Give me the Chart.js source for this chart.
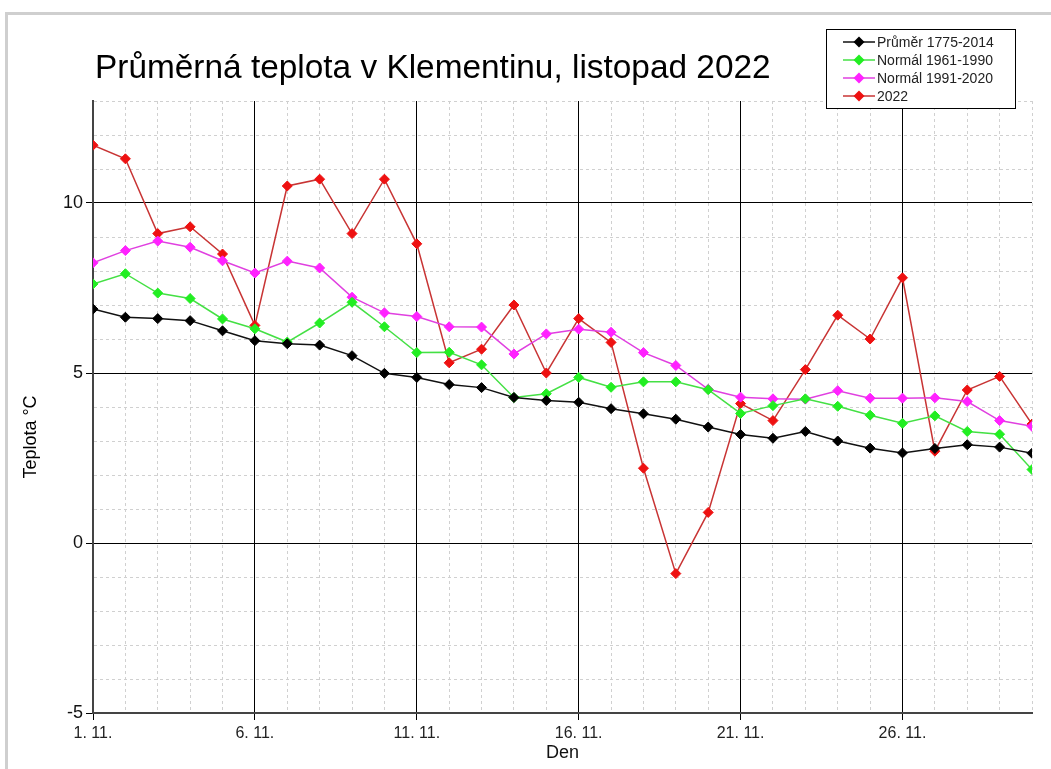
<!DOCTYPE html>
<html lang="cs">
<head>
<meta charset="utf-8">
<title>Průměrná teplota v Klementinu, listopad 2022</title>
<script src="https://cdn.jsdelivr.net/npm/chart.js@4.4.1/dist/chart.umd.min.js"></script>
<style>
    html, body { margin: 0; padding: 0; background: #fff; }
    #ramecek {
        position: absolute; left: 5px; top: 12px; width: 1100px; height: 800px;
        border-left: 3px solid #cfcfcf; border-top: 3px solid #cfcfcf;
    }
    #obal { position: absolute; left: 0; top: 0; width: 1051px; height: 769px; }
</style>
</head>
<body>
<div id="ramecek"></div>
<div id="obal"><canvas id="graf" width="1051" height="769"></canvas></div>
<script>
// Dny v listopadu (osa x)
const dny = [1, 2, 3, 4, 5, 6, 7, 8, 9, 10, 11, 12, 13, 14, 15, 16, 17, 18, 19, 20, 21, 22, 23, 24, 25, 26, 27, 28, 29, 30];

// Hodnoty (°C)
const prumer17752014 = [6.88, 6.64, 6.60, 6.54, 6.24, 5.95, 5.86, 5.82, 5.51, 4.99, 4.87, 4.66, 4.57, 4.28, 4.19, 4.14, 3.95, 3.80, 3.64, 3.41, 3.19, 3.08, 3.28, 3.00, 2.79, 2.65, 2.78, 2.89, 2.82, 2.64];
const normal19611990 = [7.62, 7.92, 7.35, 7.19, 6.59, 6.30, 5.91, 6.47, 7.08, 6.36, 5.60, 5.61, 5.24, 4.28, 4.39, 4.87, 4.58, 4.74, 4.74, 4.51, 3.81, 4.04, 4.24, 4.02, 3.76, 3.52, 3.74, 3.28, 3.20, 2.16];
const normal19912020 = [8.24, 8.60, 8.88, 8.70, 8.30, 7.94, 8.29, 8.09, 7.23, 6.77, 6.66, 6.36, 6.35, 5.56, 6.15, 6.29, 6.20, 5.60, 5.22, 4.52, 4.29, 4.24, 4.23, 4.48, 4.26, 4.26, 4.27, 4.16, 3.60, 3.43];
const rok2022 = [11.7, 11.3, 9.1, 9.3, 8.5, 6.4, 10.5, 10.7, 9.1, 10.7, 8.8, 5.3, 5.7, 7.0, 5.0, 6.6, 5.9, 2.2, -0.9, 0.9, 4.1, 3.6, 5.1, 6.7, 6.0, 7.8, 2.7, 4.5, 4.9, 3.5];

// Popisky a meze os
const nazevGrafu = 'Průměrná teplota v Klementinu, listopad 2022';
const popisOsyX = 'Den';
const popisOsyY = 'Teplota °C';
const popiskyDnu = { 1: '1. 11.', 6: '6. 11.', 11: '11. 11.', 16: '16. 11.', 21: '21. 11.', 26: '26. 11.' };
const popiskyTeplot = [-5, 0, 5, 10];

const PISMO = '"Liberation Sans", Arial, sans-serif';

function radaBodu(hodnoty) {
    /**
     * Spojí dny a hodnoty do bodů {x, y} pro lineární osu x.
     */
    return hodnoty.map((h, i) => ({ x: dny[i], y: h }));
}

function serie(label, hodnoty, barvaCary, barvaBodu) {
    return {
        label: label,
        data: radaBodu(hodnoty),
        borderColor: barvaCary,
        backgroundColor: barvaBodu,
        pointBackgroundColor: barvaBodu,
        pointBorderColor: barvaBodu,
        borderWidth: 1.5,
        pointStyle: 'rectRot',
        pointRadius: 5,
        pointBorderWidth: 1,
        tension: 0,
    };
}

// Je hodnota na hlavní mřížce (každých 5 jednotek)?
const hlavniY = (v) => Math.round(v) % 5 === 0;
const hlavniX = (v) => (Math.round(v) - 1) % 5 === 0;

// Vlastní nadpis, popis osy y a legenda (legenda zasahuje do plochy grafu)
const popisky = {
    id: 'popisky',
    afterDraw(chart) {
        const ctx = chart.ctx;
        const area = chart.chartArea;
        ctx.save();

        // nadpis
        ctx.fillStyle = '#000';
        ctx.font = '33.4px ' + PISMO;
        ctx.textAlign = 'left';
        ctx.textBaseline = 'alphabetic';
        ctx.fillText(nazevGrafu, area.left + 2, 78);

        // popis osy y
        ctx.save();
        ctx.translate(31, 437);
        ctx.rotate(-Math.PI / 2);
        ctx.font = '18px ' + PISMO;
        ctx.textAlign = 'center';
        ctx.textBaseline = 'middle';
        ctx.fillText(popisOsyY, 0, 0);
        ctx.restore();

        // legenda
        const lx = 826.5, ly = 29.5, lw = 189, lh = 79;
        ctx.fillStyle = '#fff';
        ctx.fillRect(lx, ly, lw, lh);
        ctx.strokeStyle = '#000';
        ctx.lineWidth = 1;
        ctx.strokeRect(lx, ly, lw, lh);
        ctx.font = '14px ' + PISMO;
        ctx.textAlign = 'left';
        ctx.textBaseline = 'middle';
        chart.data.datasets.forEach((ds, i) => {
            const y = 42 + i * 18;
            ctx.strokeStyle = ds.borderColor;
            ctx.lineWidth = 1.5;
            ctx.beginPath();
            ctx.moveTo(843, y);
            ctx.lineTo(875, y);
            ctx.stroke();
            ctx.fillStyle = ds.pointBackgroundColor;
            ctx.beginPath();
            ctx.moveTo(859, y - 5.5);
            ctx.lineTo(864.5, y);
            ctx.lineTo(859, y + 5.5);
            ctx.lineTo(853.5, y);
            ctx.closePath();
            ctx.fill();
            ctx.fillStyle = '#222';
            ctx.fillText(ds.label, 877, y + 1);
        });
        ctx.restore();
    }
};

new Chart(document.getElementById('graf'), {
    type: 'line',
    data: {
        datasets: [
            serie('Průměr 1775-2014', prumer17752014, '#111111', '#000000'),
            serie('Normál 1961-1990', normal19611990, '#44e044', '#22ee22'),
            serie('Normál 1991-2020', normal19912020, '#e040e0', '#ff22ff'),
            serie('2022', rok2022, '#c83434', '#ee1111'),
        ],
    },
    options: {
        responsive: false,
        animation: false,
        layout: { padding: { top: 101, left: 0, right: 19, bottom: 0 } },
        plugins: {
            legend: { display: false },
            title: { display: false },
            tooltip: { enabled: false },
        },
        scales: {
            x: {
                type: 'linear',
                min: 1,
                max: 30,
                afterFit(scale) { scale.height = 56; },
                ticks: {
                    stepSize: 1,
                    autoSkip: false,
                    maxRotation: 0,
                    padding: 4,
                    color: '#222',
                    font: { family: PISMO, size: 16 },
                    callback: (v) => popiskyDnu[v] || '',
                },
                grid: {
                    color: (c) => (c.tick && hlavniX(c.tick.value)) ? '#000' : '#d0d0d0',
                    tickColor: (c) => (c.tick && hlavniX(c.tick.value)) ? '#000' : 'rgba(0,0,0,0)',
                    tickLength: 7,
                    lineWidth: 1,
                },
                border: {
                    color: '#444',
                    width: 2,
                    dash: (c) => (c.tick && !hlavniX(c.tick.value)) ? [3, 3] : [],
                },
                title: {
                    display: true,
                    text: popisOsyX,
                    color: '#111',
                    font: { family: PISMO, size: 18 },
                    padding: { top: 2, bottom: 5 },
                },
            },
            y: {
                min: -5,
                max: 13,
                afterFit(scale) { scale.width = 93; },
                ticks: {
                    stepSize: 1,
                    autoSkip: false,
                    padding: 3,
                    color: '#111',
                    font: { family: PISMO, size: 18 },
                    callback: (v) => popiskyTeplot.includes(v) ? String(v) : '',
                },
                grid: {
                    color: (c) => (c.tick && hlavniY(c.tick.value)) ? '#000' : '#d0d0d0',
                    tickColor: (c) => (c.tick && hlavniY(c.tick.value)) ? '#000' : 'rgba(0,0,0,0)',
                    tickLength: 7,
                    lineWidth: 1,
                },
                border: {
                    color: '#444',
                    width: 2,
                    dash: (c) => (c.tick && !hlavniY(c.tick.value)) ? [3, 3] : [],
                },
            },
        },
    },
    plugins: [popisky],
});
</script>
</body>
</html>
